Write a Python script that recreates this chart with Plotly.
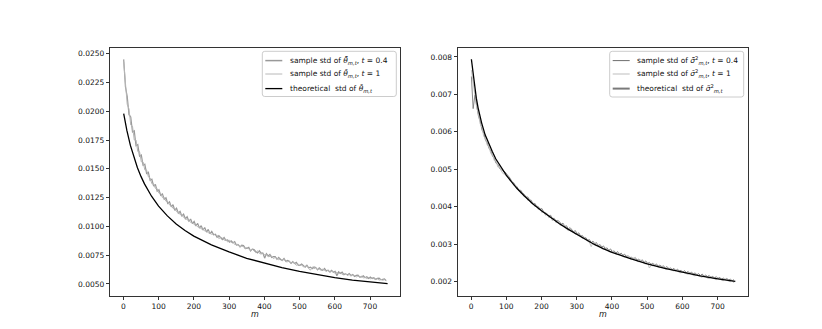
import plotly.graph_objects as go

# m values for the simulated (sample) series
m_grid = list(range(1, 751, 5))

# left panel: sample std of theta-bar, two horizons
left_t04 = [
    0.0245, 0.0221, 0.0213, 0.0197, 0.0195, 0.0182, 0.0183, 0.0170, 0.0171, 0.0161,
    0.0162, 0.0153, 0.0154, 0.0146, 0.0147, 0.0140, 0.0141, 0.0135, 0.01365, 0.01305,
    0.01318, 0.01270, 0.01282, 0.01236, 0.01248, 0.01200, 0.01214, 0.01170, 0.01188, 0.01140,
    0.01158, 0.01115, 0.01130, 0.01090, 0.01106, 0.01066, 0.01084, 0.01045, 0.01064, 0.01024,
    0.01043, 0.01004, 0.01026, 0.00985, 0.01006, 0.00968, 0.00990, 0.00950, 0.00974, 0.00935,
    0.00956, 0.00927, 0.00932, 0.00905, 0.00919, 0.00904, 0.00886, 0.00904, 0.00879, 0.00882,
    0.00863, 0.00875, 0.00856, 0.00868, 0.00837, 0.00841, 0.00822, 0.00836, 0.00833, 0.00811,
    0.00809, 0.00818, 0.00787, 0.00802, 0.00799, 0.00780, 0.00770, 0.00788, 0.00767, 0.00768,
    0.00724, 0.00762, 0.00743, 0.00756, 0.00730, 0.00737, 0.00737, 0.00714, 0.00731, 0.00712,
    0.00704, 0.00721, 0.00697, 0.00704, 0.00697, 0.00678, 0.00694, 0.00677, 0.00687, 0.00663,
    0.00662, 0.00673, 0.00663, 0.00646, 0.00663, 0.00641, 0.00646, 0.00632, 0.00648, 0.00643,
    0.00623, 0.00640, 0.00626, 0.00618, 0.00634, 0.00614, 0.00619, 0.00604, 0.00619, 0.00602,
    0.00610, 0.00572, 0.00606, 0.00592, 0.00603, 0.00581, 0.00588, 0.00578, 0.00591, 0.00574,
    0.00583, 0.00565, 0.00575, 0.00577, 0.00559, 0.00561, 0.00571, 0.00554, 0.00562, 0.00547,
    0.00560, 0.00547, 0.00555, 0.00540, 0.00548, 0.00551, 0.00536, 0.00537, 0.00543, 0.00529,
]
left_t1 = [
    0.0243, 0.0226, 0.0206, 0.0202, 0.0188, 0.0187, 0.0175, 0.0175, 0.0165, 0.0165,
    0.0156, 0.0156, 0.0149, 0.0149, 0.0143, 0.0142, 0.0137, 0.0137, 0.01330, 0.01328,
    0.01288, 0.01286, 0.01250, 0.01252, 0.01218, 0.01214, 0.01186, 0.01182, 0.01156, 0.01154,
    0.01128, 0.01126, 0.01102, 0.01100, 0.01078, 0.01074, 0.01056, 0.01054, 0.01034, 0.01032,
    0.01015, 0.01012, 0.00996, 0.00994, 0.00978, 0.00976, 0.00961, 0.00960, 0.00945, 0.00943,
    0.00931, 0.00938, 0.00920, 0.00924, 0.00894, 0.00903, 0.00900, 0.00880, 0.00883, 0.00865,
    0.00879, 0.00859, 0.00867, 0.00842, 0.00840, 0.00844, 0.00821, 0.00829, 0.00825, 0.00803,
    0.00818, 0.00800, 0.00790, 0.00801, 0.00789, 0.00773, 0.00788, 0.00766, 0.00759, 0.00770,
    0.00751, 0.00757, 0.00736, 0.00742, 0.00743, 0.00720, 0.00731, 0.00724, 0.00710, 0.00721,
    0.00703, 0.00715, 0.00692, 0.00693, 0.00697, 0.00677, 0.00688, 0.00678, 0.00662, 0.00675,
    0.00659, 0.00665, 0.00648, 0.00654, 0.00656, 0.00635, 0.00619, 0.00648, 0.00633, 0.00640,
    0.00624, 0.00631, 0.00615, 0.00629, 0.00619, 0.00609, 0.00619, 0.00601, 0.00610, 0.00605,
    0.00592, 0.00602, 0.00589, 0.00599, 0.00582, 0.00583, 0.00589, 0.00575, 0.00581, 0.00568,
    0.00578, 0.00572, 0.00561, 0.00570, 0.00559, 0.00567, 0.00553, 0.00559, 0.00547, 0.00556,
    0.00545, 0.00553, 0.00543, 0.00538, 0.00545, 0.00533, 0.00542, 0.00532, 0.00537, 0.00527,
]
m_theo_left = [1, 5, 10, 20, 30, 40, 50, 60, 80, 100, 125, 150, 175, 200, 250,
               300, 350, 400, 450, 500, 550, 600, 650, 700, 750]
theo_left = [0.0198, 0.01911, 0.01833, 0.01703, 0.01597, 0.01509, 0.01434, 0.01369,
             0.01262, 0.01176, 0.01091, 0.01021, 0.00964, 0.00915, 0.00840, 0.00778,
             0.00723, 0.00680, 0.00642, 0.00609, 0.00580, 0.00555, 0.00534, 0.00517, 0.00503]

# right panel: sample std of sigma^2-bar
right_t04 = [
    0.00748, 0.00662, 0.00698, 0.00670, 0.00642, 0.00628, 0.00605, 0.00596, 0.00578, 0.00570,
    0.00556, 0.00549, 0.00535, 0.00529, 0.00516, 0.00513, 0.00502, 0.00499, 0.00494, 0.00493,
    0.00487, 0.00479, 0.00476, 0.00466, 0.00464, 0.00456, 0.00453, 0.00442, 0.00444, 0.00437,
    0.00433, 0.00425, 0.00426, 0.00418, 0.00417, 0.00406, 0.00409, 0.00401, 0.00400, 0.00393,
    0.00395, 0.00386, 0.00383, 0.00381, 0.00375, 0.00377, 0.00368, 0.00369, 0.00362, 0.00363,
    0.00360, 0.00353, 0.00356, 0.00347, 0.00349, 0.00340, 0.00344, 0.00338, 0.00333, 0.00336,
    0.00327, 0.00330, 0.00321, 0.00323, 0.00316, 0.00317, 0.00310, 0.00312, 0.00304, 0.00308,
    0.00301, 0.00304, 0.00295, 0.00299, 0.00292, 0.00295, 0.00287, 0.00290, 0.00283, 0.00287,
    0.00279, 0.00282, 0.00276, 0.00280, 0.00272, 0.00276, 0.00270, 0.00273, 0.00266, 0.00269,
    0.00264, 0.00265, 0.00260, 0.00264, 0.00257, 0.00260, 0.00254, 0.00258, 0.00251, 0.00255,
    0.00248, 0.00251, 0.00246, 0.00249, 0.00243, 0.00247, 0.00241, 0.00244, 0.00239, 0.00242,
    0.00236, 0.00240, 0.00234, 0.00236, 0.00232, 0.00235, 0.00229, 0.00233, 0.00228, 0.00230,
    0.00225, 0.00229, 0.00223, 0.00227, 0.00222, 0.00225, 0.00220, 0.00223, 0.00218, 0.00221,
    0.00216, 0.00220, 0.00214, 0.00217, 0.00213, 0.00216, 0.00211, 0.00214, 0.00209, 0.00213,
    0.00208, 0.00211, 0.00206, 0.00209, 0.00205, 0.00208, 0.00204, 0.00206, 0.00202, 0.00205,
]
right_t1 = [
    0.00765, 0.00730, 0.00690, 0.00665, 0.00648, 0.00621, 0.00612, 0.00588, 0.00582, 0.00564,
    0.00560, 0.00542, 0.00540, 0.00523, 0.00522, 0.00506, 0.00508, 0.00495, 0.00488, 0.00487,
    0.00480, 0.00479, 0.00469, 0.00469, 0.00457, 0.00457, 0.00446, 0.00447, 0.00436, 0.00438,
    0.00426, 0.00429, 0.00417, 0.00420, 0.00408, 0.00411, 0.00400, 0.00404, 0.00392, 0.00396,
    0.00384, 0.00388, 0.00377, 0.00381, 0.00370, 0.00374, 0.00362, 0.00368, 0.00357, 0.00360,
    0.00352, 0.00349, 0.00353, 0.00348, 0.00340, 0.00336, 0.00340, 0.00336, 0.00330, 0.00326,
    0.00330, 0.00325, 0.00318, 0.00315, 0.00319, 0.00314, 0.00307, 0.00305, 0.00293, 0.00304,
    0.00297, 0.00296, 0.00299, 0.00294, 0.00288, 0.00286, 0.00290, 0.00286, 0.00280, 0.00278,
    0.00282, 0.00277, 0.00273, 0.00272, 0.00275, 0.00271, 0.00266, 0.00265, 0.00269, 0.00265,
    0.00260, 0.00259, 0.00263, 0.00259, 0.00254, 0.00253, 0.00257, 0.00253, 0.00248, 0.00247,
    0.00251, 0.00236, 0.00243, 0.00242, 0.00246, 0.00242, 0.00238, 0.00237, 0.00241, 0.00237,
    0.00233, 0.00232, 0.00236, 0.00232, 0.00229, 0.00228, 0.00232, 0.00228, 0.00224, 0.00223,
    0.00227, 0.00223, 0.00220, 0.00219, 0.00223, 0.00219, 0.00216, 0.00215, 0.00219, 0.00215,
    0.00212, 0.00211, 0.00216, 0.00212, 0.00209, 0.00208, 0.00213, 0.00209, 0.00206, 0.00205,
    0.00210, 0.00206, 0.00203, 0.00202, 0.00207, 0.00203, 0.00200, 0.00199, 0.00204, 0.00196,
]
m_theo_right = [1, 5, 10, 15, 20, 25, 30, 40, 50, 60, 70, 80, 90, 100, 115, 130, 150, 175,
                200, 225, 250, 275, 300, 325, 350, 375, 400, 450, 500, 550, 600, 650, 700, 750]
theo_right = [0.00794, 0.00760, 0.00722, 0.00690, 0.00664, 0.00643, 0.00624, 0.00592,
              0.00568, 0.00548, 0.00528, 0.00512, 0.00498, 0.00484, 0.00466, 0.00449,
              0.00430, 0.00408, 0.00389, 0.00371, 0.00355, 0.00340, 0.00326, 0.00311,
              0.00299, 0.00288, 0.00278, 0.00262, 0.00247, 0.00235, 0.00224, 0.00215,
              0.00207, 0.00200]

x_ticks = [0, 100, 200, 300, 400, 500, 600, 700]
left_yticks = [0.0050, 0.0075, 0.0100, 0.0125, 0.0150, 0.0175, 0.0200, 0.0225, 0.0250]
right_yticks = [0.002, 0.003, 0.004, 0.005, 0.006, 0.007, 0.008]

legend_left = [
    ("sample std of <i>θ\u0304\u0303</i><sub><i>m,t</i></sub>, <i>t</i> = 0.4", "#999999", 1.5),
    ("sample std of <i>θ\u0304</i><sub><i>m,t</i></sub>, <i>t</i> = 1", "#b8b8b8", 1.0),
    ("theoretical\u00a0 std of <i>θ\u0304</i><sub><i>m,t</i></sub>", "black", 1.3),
]
legend_right = [
    ("sample std of <i>σ\u0304\u0303</i><sup>2</sup><sub><i>m,t</i></sub>, <i>t</i> = 0.4", "#6e6e6e", 1.0),
    ("sample std of <i>σ\u0304</i><sup>2</sup><sub><i>m,t</i></sub>, <i>t</i> = 1", "#bdbdbd", 1.0),
    ("theoretical\u00a0 std of <i>σ\u0303</i><sup>2</sup><sub><i>m,t</i></sub>", "#7a7a7a", 2.0),
]

W, H = 822, 329
FONT = "DejaVu Sans"


def px(x):
    return x / W


def py(y):
    return 1 - y / H


fig = go.Figure()

# left panel
fig.add_trace(go.Scatter(x=m_grid, y=left_t04, mode="lines", line=dict(color="#999999", width=1.2),
                         xaxis="x", yaxis="y", showlegend=False))
fig.add_trace(go.Scatter(x=m_grid, y=left_t1, mode="lines", line=dict(color="#b5b5b5", width=1.0),
                         xaxis="x", yaxis="y", showlegend=False))
fig.add_trace(go.Scatter(x=m_theo_left, y=theo_left, mode="lines", line=dict(color="black", width=1.3),
                         xaxis="x", yaxis="y", showlegend=False))

# right panel
fig.add_trace(go.Scatter(x=m_grid, y=right_t04, mode="lines", line=dict(color="#7a7a7a", width=0.9),
                         xaxis="x2", yaxis="y2", showlegend=False))
fig.add_trace(go.Scatter(x=m_grid, y=right_t1, mode="lines", line=dict(color="#bdbdbd", width=0.9),
                         xaxis="x2", yaxis="y2", showlegend=False))
fig.add_trace(go.Scatter(x=m_theo_right, y=theo_right, mode="lines", line=dict(color="black", width=1.3),
                         xaxis="x2", yaxis="y2", showlegend=False))

axis_common = dict(
    showline=True, mirror=True, linecolor="#333333", linewidth=1,
    ticks="outside", ticklen=3.5, tickwidth=0.8, tickcolor="#333333",
    showgrid=False, zeroline=False, automargin=False,
    tickfont=dict(family=FONT, size=7.5, color="#111111"),
)

y_dom = [py(287.7), py(40)]

fig.update_layout(
    width=W, height=H,
    margin=dict(l=0, r=0, t=0, b=0),
    paper_bgcolor="white", plot_bgcolor="white",
    template="none",
    font=dict(family=FONT, size=8, color="#111111"),
    xaxis=dict(domain=[px(102.3), px(392.3)], range=[-37, 786], tickvals=x_ticks,
               anchor="y", **axis_common),
    yaxis=dict(domain=y_dom, range=[0.00398, 0.02549], tickvals=left_yticks,
               tickformat=".4f", anchor="x", **axis_common),
    xaxis2=dict(domain=[px(450), px(740)], range=[-37, 786], tickvals=x_ticks,
                anchor="y2", **axis_common),
    yaxis2=dict(domain=y_dom, range=[0.00162, 0.00824], tickvals=right_yticks,
                tickformat=".3f", anchor="x2", **axis_common),
    showlegend=False,
)

# axis labels
for xc in [(102.3 + 392.3) / 2, (450 + 740) / 2]:
    fig.add_annotation(x=px(xc), y=py(306), xref="paper", yref="paper", text="<i>m</i>",
                       showarrow=False, xanchor="center", yanchor="middle",
                       font=dict(family=FONT, size=8, color="#111111"))


def add_legend(x0, y0, x1, y1, entries):
    # rounded legend frame like matplotlib's
    rx, ry = 2.5 / W, 2.5 / H
    X0, X1, Y0, Y1 = px(x0), px(x1), py(y1), py(y0)
    path = (f"M {X0 + rx},{Y1} L {X1 - rx},{Y1} Q {X1},{Y1} {X1},{Y1 - ry} "
            f"L {X1},{Y0 + ry} Q {X1},{Y0} {X1 - rx},{Y0} L {X0 + rx},{Y0} "
            f"Q {X0},{Y0} {X0},{Y0 + ry} L {X0},{Y1 - ry} Q {X0},{Y1} {X0 + rx},{Y1} Z")
    fig.add_shape(type="path", path=path, xref="paper", yref="paper",
                  fillcolor="rgba(255,255,255,0.8)", line=dict(color="#cccccc", width=1))
    rows = [y0 + 9.3, y0 + 22.7, y0 + 37.3]
    for (label, color, width), yy in zip(entries, rows):
        fig.add_shape(type="line", xref="paper", yref="paper",
                      x0=px(x0 + 3), x1=px(x0 + 20), y0=py(yy), y1=py(yy),
                      line=dict(color=color, width=width))
        fig.add_annotation(x=px(x0 + 25.5), y=py(yy), xref="paper", yref="paper",
                           text=label, showarrow=False, xanchor="left", yanchor="middle",
                           font=dict(family=FONT, size=7.5, color="#111111"))


add_legend(254.3, 43.3, 388.3, 88.5, legend_left)
add_legend(601.7, 43.3, 735.7, 89, legend_right)

fig.write_html("out.html")
